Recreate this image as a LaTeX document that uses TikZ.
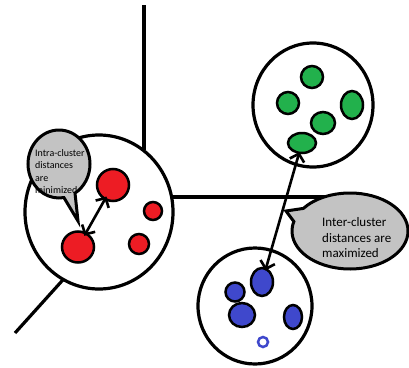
\documentclass[tikz,border=0pt]{standalone}
\usepackage{fontspec}
\setmainfont{Carlito}
\usetikzlibrary{shapes.geometric,shapes.callouts,arrows.meta}
\definecolor{pred}{RGB}{237,28,36}
\definecolor{pgreen}{RGB}{34,177,76}
\definecolor{pblue}{RGB}{63,72,204}
\definecolor{pgray}{RGB}{195,195,195}
\begin{document}
\begin{tikzpicture}[x=1pt,y=-1pt,
  axis/.style={line width=3.2pt},
  cluster/.style={ellipse,draw,fill=white,line width=3.2pt,inner sep=0pt},
  dot/.style={ellipse,draw,line width=2.5pt,inner sep=0pt,fill=#1},
  bubble/.style={ellipse callout,draw,fill=pgray,line width=3pt,inner sep=0pt,callout pointer arc=22},
  dist/.style={line width=2.6pt,{Straight Barb[length=7pt,width=15pt]}-{Straight Barb[length=7pt,width=15pt]}}
]
\useasboundingbox (0,0) rectangle (409,367);
% axes
\coordinate (ytop) at (144,5);
\coordinate (ybot) at (144,150);
\coordinate (xl) at (165,197);
\coordinate (xr) at (340,197);
\coordinate (zl) at (15,333);
\coordinate (zr) at (70,272);
\draw[axis] (ytop) -- (ybot);
\draw[axis] (xl) -- (xr);
\draw[axis] (zl) -- (zr);
% clusters
\node[cluster,minimum width=148pt,minimum height=154pt] (redc) at (99,212) {};
\node[cluster,minimum width=120pt,minimum height=124pt] (greenc) at (313,105) {};
\node[cluster,minimum width=114pt,minimum height=116pt] (bluec) at (255,306) {};
% red dots
\node[dot=pred,minimum width=32pt,minimum height=32pt] (r1) at (113,185) {};
\node[dot=pred,minimum width=32pt,minimum height=31pt] (r2) at (78,247) {};
\node[dot=pred,minimum width=18pt,minimum height=18pt] (r3) at (153,211) {};
\node[dot=pred,minimum width=20pt,minimum height=20pt] (r4) at (139,244) {};
% green dots
\node[dot=pgreen,minimum width=22pt,minimum height=22pt] (g1) at (312,77) {};
\node[dot=pgreen,minimum width=22pt,minimum height=22pt] (g2) at (288,103) {};
\node[dot=pgreen,minimum width=22pt,minimum height=28pt] (g3) at (352,105) {};
\node[dot=pgreen,minimum width=24pt,minimum height=22pt] (g4) at (323,123) {};
\node[dot=pgreen,minimum width=28pt,minimum height=20pt] (g5) at (302,143) {};
% blue dots
\node[dot=pblue,minimum width=22pt,minimum height=28pt] (b1) at (262,282) {};
\node[dot=pblue,minimum width=19pt,minimum height=19pt] (b2) at (235,292) {};
\node[dot=pblue,minimum width=26pt,minimum height=24pt] (b3) at (242,315) {};
\node[dot=pblue,minimum width=18pt,minimum height=24pt] (b4) at (293,317) {};
\node[circle,draw=pblue,fill=white,line width=2.5pt,minimum size=10pt,inner sep=0pt] (b5) at (263,342) {};
% distances
\draw[dist,shorten <=-4pt,shorten >=-4pt] (r2) -- (r1);
\draw[dist,shorten <=-3pt,shorten >=-2pt] (b1) -- (g5);
% callouts
\node[bubble,minimum width=62pt,minimum height=68pt,callout absolute pointer={(78,221)}] (intra) at (59,164) {};
\node[font=\fontsize{10}{12.5}\selectfont,align=left,anchor=north west,inner sep=0pt] (intratext) at (35,149) {Intra-cluster\\distances\\are\\minimized};
\node[bubble,minimum width=116pt,minimum height=76pt,callout absolute pointer={(286,211)}] (inter) at (350,231) {};
\node[font=\fontsize{13}{15.5}\selectfont,align=left,anchor=west,inner sep=0pt] (intertext) at (322,238) {Inter-cluster\\distances are\\maximized};
\end{tikzpicture}
\end{document}
